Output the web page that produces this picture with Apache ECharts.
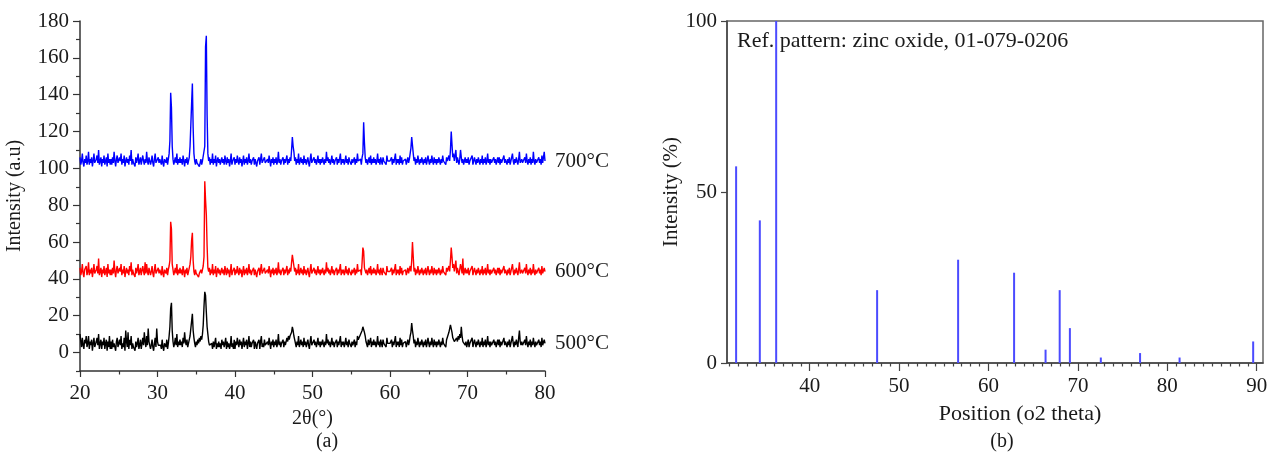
<!DOCTYPE html>
<html><head><meta charset="utf-8">
<script src="https://cdn.jsdelivr.net/npm/echarts@6/dist/echarts.min.js"></script>
<style>html,body{margin:0;padding:0;background:#fff}#c{width:1279px;height:458px}</style>
</head><body><div id="c"></div>
<script>
// sampling grid of the XRD patterns in (a): 20.0 .. 80.0 deg, step 0.1
const thetaStart = 20, thetaStep = 0.1;
const seriesNames = ['500°C', '600°C', '700°C'];
const y700 = [
106,102,104,108,103,101,105,103,107,102,
104,109,102,105,103,106,101,104,108,103,
102,105,107,103,110,102,104,106,101,105,
103,107,102,104,106,101,108,103,105,102,
105,102,106,103,109,104,101,105,107,103,
102,106,104,108,102,105,103,107,101,104,
106,103,105,102,107,104,110,102,105,103,
104,101,106,103,105,108,102,104,106,102,
103,107,104,102,105,103,109,104,102,106,
105,102,104,107,103,101,105,108,103,104,
102,106,103,105,104,102,107,103,101,105,
104,103,106,102,105,108,115,141,133,112,
105,102,104,106,103,108,102,105,103,106,
103,105,102,107,104,101,105,103,106,102,
104,106,112,113,135,146,122,108,104,102,
105,103,102,104,101,103,105,102,104,103,
104,112,166,172,129,108,104,106,102,105,
103,108,102,105,103,107,101,104,106,103,
105,102,104,106,103,105,102,107,104,102,
106,103,105,101,104,108,102,104,103,106,
102,105,103,107,104,102,106,103,105,101,
104,107,102,105,103,106,102,104,108,103,
105,102,104,103,106,102,105,103,101,104,
103,106,102,105,108,103,104,102,106,103,
104,102,105,103,107,104,101,105,103,106,
102,105,103,106,102,104,109,103,105,102,
104,103,106,102,105,103,104,107,102,105,
103,106,104,110,117,112,109,104,106,102,
105,103,108,102,104,106,103,105,102,107,
103,105,102,104,106,103,101,105,108,103,
104,102,106,103,105,102,104,107,103,105,
102,105,103,106,104,102,105,103,109,104,
106,103,105,102,104,107,103,105,102,104,
103,106,102,105,103,104,108,102,105,103,
105,102,104,107,103,105,102,106,104,103,
102,105,103,104,106,102,105,103,108,104,
104,103,105,102,106,108,125,114,106,103,
105,102,104,106,103,107,102,105,103,106,
103,105,102,104,108,103,105,102,106,104,
102,106,104,103,105,102,107,104,103,105,
104,103,106,102,105,103,104,108,102,105,
103,105,102,107,103,106,102,104,105,103,
105,102,104,106,103,105,108,111,117,117,
108,104,106,102,105,103,107,104,102,105,
103,106,104,102,105,103,106,102,104,107,
104,102,105,103,107,104,102,106,103,105,
102,105,103,106,104,102,105,103,107,104,
105,103,102,106,104,103,107,104,110,120,
113,106,108,104,105,110,103,106,104,102,
105,110,106,103,105,102,104,106,103,105,
103,106,102,104,105,103,107,102,104,106,
104,102,105,103,106,104,102,105,103,107,
102,105,103,106,102,104,108,103,105,102,
105,103,104,102,106,103,105,102,104,106,
103,106,102,105,103,104,102,107,103,105,
104,102,105,103,106,102,104,103,108,104,
102,105,103,106,104,102,105,109,103,104,
105,103,104,102,106,103,108,104,102,105,
103,106,102,105,103,109,104,102,105,103,
104,102,106,103,105,102,107,103,104,109,
104];
const y600 = [
46,42,44,48,43,41,45,44,47,42,
44,49,42,45,43,46,41,44,48,43,
42,45,47,43,51,42,44,46,41,45,
43,47,42,44,46,41,48,43,45,42,
45,42,46,43,50,44,41,45,47,43,
42,46,44,48,42,45,43,47,41,44,
46,43,45,42,47,44,49,42,45,43,
44,41,46,43,45,48,42,44,46,42,
43,47,44,42,49,43,48,44,42,46,
45,42,44,47,43,41,45,48,43,44,
42,46,43,45,44,42,47,43,41,45,
44,43,46,42,45,47,50,71,67,48,
45,42,44,46,43,48,42,45,43,46,
43,45,42,47,44,41,45,43,46,42,
44,46,48,52,61,65,50,44,42,45,
43,42,44,41,43,42,45,43,44,47,
52,93,83,75,58,46,44,46,42,45,
43,48,42,45,43,47,41,44,46,43,
45,42,44,46,43,45,42,47,44,42,
46,43,45,41,44,48,42,44,43,46,
42,45,43,47,44,42,46,43,45,41,
44,47,42,45,43,46,42,44,48,43,
45,42,44,43,46,42,45,43,41,44,
43,46,42,45,48,43,44,42,46,43,
44,42,45,43,47,44,41,45,43,46,
42,45,43,46,42,44,49,43,45,42,
44,43,46,42,45,43,44,47,42,45,
43,46,44,49,53,52,47,44,46,42,
45,43,48,42,44,46,43,45,42,47,
43,45,42,44,46,43,41,45,48,43,
44,42,46,43,45,42,44,47,43,45,
42,45,43,46,44,42,45,43,49,44,
46,43,45,42,44,47,43,45,42,44,
43,46,42,45,43,44,48,42,45,43,
45,42,44,47,43,45,42,46,44,43,
42,45,43,44,46,42,45,43,48,44,
44,43,45,42,49,57,55,46,45,43,
45,42,44,46,43,47,42,45,43,46,
43,45,42,44,48,43,45,42,46,44,
42,46,44,43,45,42,47,44,43,45,
44,43,46,42,45,43,44,48,42,45,
43,45,42,47,43,46,42,44,45,43,
45,42,44,46,43,45,47,44,50,60,
52,44,46,42,45,43,47,44,42,45,
43,46,44,42,45,43,46,42,44,47,
44,42,45,43,47,44,42,46,43,45,
42,45,43,46,44,42,45,43,47,44,
45,43,42,46,44,43,47,44,50,57,
52,46,48,44,45,50,43,46,44,42,
45,48,46,43,51,42,44,46,43,45,
43,46,42,44,45,43,47,42,44,46,
44,42,45,43,46,44,42,45,43,47,
42,45,43,46,42,44,48,43,45,42,
45,43,44,42,46,43,45,42,44,46,
43,46,42,45,43,44,42,47,43,45,
44,42,45,43,46,42,44,43,48,44,
42,45,43,46,44,42,45,49,43,44,
45,43,44,42,46,43,48,44,42,45,
43,46,42,45,43,48,44,42,45,43,
44,42,46,43,45,42,47,43,44,46,
44];
const y500 = [
10,6,3,8,4,2,7,5,9,3,
5,9,2,6,4,7,1,5,8,3,
3,6,8,4,10,2,5,7,2,6,
4,8,2,5,7,1,6,3,9,2,
6,2,7,3,5,4,1,6,8,3,
2,7,4,9,2,5,3,8,1,12,
6,3,11,2,7,4,9,2,5,3,
4,1,6,3,5,8,2,4,7,2,
3,8,4,11,6,3,9,4,13,6,
5,2,4,7,3,1,5,8,3,13,
6,4,3,5,4,2,7,3,1,5,
4,3,7,2,5,9,14,24,27,12,
6,3,5,8,4,10,3,6,4,7,
4,6,3,8,5,11,6,4,7,3,
5,7,9,13,17,21,12,8,5,3,
6,4,7,5,8,6,9,7,10,15,
25,33,31,22,14,10,6,4,5,3,
5,2,6,3,4,8,2,5,3,6,
3,5,2,7,4,6,3,5,8,2,
6,3,5,2,4,9,3,5,2,7,
2,6,4,8,5,3,7,4,6,2,
5,8,3,6,4,7,2,5,9,3,
6,3,5,4,7,2,6,4,2,5,
4,7,2,6,9,3,5,3,7,4,
5,3,6,4,8,5,2,6,4,7,
3,6,4,7,3,5,10,4,6,3,
5,4,7,3,6,4,5,8,6,9,
7,9,8,11,14,12,9,7,5,3,
6,4,9,3,5,7,4,6,3,8,
4,6,3,5,7,4,2,6,9,4,
5,3,7,4,6,3,5,8,4,6,
3,6,4,7,5,3,6,4,10,5,
7,4,6,3,5,8,4,6,3,5,
4,7,3,6,4,5,9,3,6,4,
6,3,5,8,4,6,3,7,5,4,
3,6,4,5,7,3,6,4,9,7,
6,8,10,9,12,14,13,11,9,6,
5,3,7,4,6,8,3,6,4,7,
4,6,3,5,9,4,6,3,7,5,
3,7,5,4,6,3,8,5,4,6,
5,4,7,3,6,4,5,9,3,6,
4,6,3,8,4,7,3,5,6,4,
6,3,5,7,4,6,9,11,16,12,
9,5,7,3,6,4,8,5,3,6,
4,7,5,3,6,4,7,3,5,8,
5,3,6,4,8,5,3,7,4,6,
3,6,4,7,5,3,6,4,8,5,
6,4,3,7,8,6,11,13,15,14,
11,8,9,6,7,5,8,6,9,7,
10,8,14,9,6,5,7,4,6,3,
4,7,3,5,6,4,8,3,5,7,
5,3,6,4,7,5,3,6,4,8,
3,6,4,7,3,5,9,4,6,3,
6,4,5,3,7,4,6,3,5,7,
4,7,3,6,4,5,3,8,4,6,
5,3,6,4,7,3,5,4,9,5,
3,6,4,7,5,3,8,12,6,4,
6,4,5,3,7,4,9,5,3,6,
4,7,3,6,4,8,5,3,6,4,
5,3,7,4,6,3,8,4,5,7,
5];
// reference pattern (b)
const refPos = [31.77, 34.42, 36.25, 47.54, 56.60, 62.86, 66.38, 67.96, 69.10, 72.56, 76.95, 81.37, 89.60];
const refInt = [57.5, 41.7, 100, 21.3, 30.2, 26.4, 3.9, 21.3, 10.2, 1.6, 2.9, 1.6, 6.3];
// ticks
const xTicksA = [20, 30, 40, 50, 60, 70, 80];
const xMinorA = [25, 35, 45, 55, 65, 75];
const yTicksA = [0, 20, 40, 60, 80, 100, 120, 140, 160, 180];
const yMinorA = [-10, 10, 30, 50, 70, 90, 110, 130, 150, 170];
const xTicksB = [40, 50, 60, 70, 80, 90];
const yTicksB = [0, 50, 100];
const xMinorB = [];
for (let t = 31; t <= 90; t++) if (t % 10) xMinorB.push(t);

const FONT = 'Liberation Serif';
const TXT = '#1a1a1a';
const AX = '#333';
const pts = arr => arr.map((v, i) => [+(thetaStart + i * thetaStep).toFixed(2), v]);

const chart = echarts.init(document.getElementById('c'));
const lbl = { fontFamily: FONT, fontSize: 21, color: TXT };
const lineSeries = (name, data, color) => ({
  type: 'line', name, data: pts(data), xAxisIndex: 0, yAxisIndex: 0,
  showSymbol: false, symbol: 'none', sampling: null, animation: false,
  lineStyle: { color, width: 1.4 }, itemStyle: { color },
  endLabel: { show: true, formatter: name, distance: 10, ...lbl }
});
chart.setOption({
  animation: false,
  backgroundColor: '#fff',
  textStyle: { fontFamily: FONT },
  grid: [
    { left: 80, top: 21, width: 465, height: 350, outerBoundsMode: 'none' },
    { left: 727, top: 21, width: 536, height: 342, show: true, borderColor: '#666', borderWidth: 1.5, outerBoundsMode: 'none' }
  ],
  xAxis: [
    { gridIndex: 0, type: 'value', position: 'bottom', min: 20, max: 80,
      axisLine: { onZero: false, lineStyle: { color: AX, width: 1.5 } },
      axisTick: { customValues: xTicksA, length: 6, lineStyle: { color: AX, width: 1.2 } },
      axisLabel: { customValues: xTicksA, margin: 12, ...lbl },
      splitLine: { show: false },
      name: '2θ(°)', nameLocation: 'middle', nameGap: 37, nameTextStyle: { ...lbl, fontSize: 20 } },
    { gridIndex: 0, type: 'value', position: 'bottom', min: 20, max: 80,
      axisLine: { show: false, onZero: false },
      axisTick: { customValues: xMinorA, length: 3.5, lineStyle: { color: AX, width: 1.2 } },
      axisLabel: { show: false }, splitLine: { show: false } },
    { gridIndex: 1, type: 'value', position: 'bottom', min: 30.75, max: 90.7,
      axisLine: { onZero: false, lineStyle: { color: '#444', width: 1.5 } },
      axisTick: { customValues: xTicksB, length: 8, lineStyle: { color: '#444', width: 1.2 } },
      axisLabel: { customValues: xTicksB, margin: 13, ...lbl },
      splitLine: { show: false },
      name: 'Position (o2 theta)', nameLocation: 'middle', nameGap: 40,
      nameTextStyle: { ...lbl, fontSize: 22, padding: [0, 0, 0, 50] } },
    { gridIndex: 1, type: 'value', position: 'bottom', min: 30.75, max: 90.7,
      axisLine: { show: false, onZero: false },
      axisTick: { customValues: xMinorB, length: 3.5, lineStyle: { color: '#444', width: 1.2 } },
      axisLabel: { show: false }, splitLine: { show: false } }
  ],
  yAxis: [
    { gridIndex: 0, type: 'value', position: 'left', min: -10, max: 180,
      axisLine: { show: true, onZero: false, lineStyle: { color: AX, width: 1.5 } },
      axisTick: { show: true, customValues: yTicksA, length: 7, lineStyle: { color: AX, width: 1.2 } },
      axisLabel: { customValues: yTicksA, margin: 11, ...lbl },
      splitLine: { show: false },
      name: 'Intensity (a.u)', nameLocation: 'middle', nameRotate: 90, nameGap: 55, nameTextStyle: { ...lbl, fontSize: 20 } },
    { gridIndex: 0, type: 'value', position: 'left', min: -10, max: 180,
      axisLine: { show: false, onZero: false },
      axisTick: { show: true, customValues: yMinorA, length: 4, lineStyle: { color: AX, width: 1.2 } },
      axisLabel: { show: false }, splitLine: { show: false } },
    { gridIndex: 1, type: 'value', position: 'left', min: 0, max: 100, interval: 50,
      axisLine: { show: true, onZero: false, lineStyle: { color: '#444', width: 1.5 } },
      axisTick: { show: true, length: 6, lineStyle: { color: '#444', width: 1.2 } },
      axisLabel: { margin: 10, ...lbl },
      splitLine: { show: false },
      name: 'Intensity (%)', nameLocation: 'middle', nameRotate: 90, nameGap: 42, nameTextStyle: lbl }
  ],
  series: [
    lineSeries(seriesNames[0], y500, '#000000'),
    lineSeries(seriesNames[1], y600, '#ff0000'),
    lineSeries(seriesNames[2], y700, '#0000ff'),
    { type: 'bar', name: 'ref', xAxisIndex: 2, yAxisIndex: 2, barWidth: 2,
      data: refPos.map((p, i) => [p, refInt[i]]),
      itemStyle: { color: '#4b4bff' }, animation: false }
  ],
  graphic: [
    { type: 'text', left: 737, top: 30, style: { text: 'Ref. pattern: zinc oxide, 01-079-0206', font: '22px "Liberation Serif"', fill: TXT } },
    { type: 'text', x: 327, y: 442, style: { text: '(a)', font: '20px "Liberation Serif"', fill: TXT, align: 'center', verticalAlign: 'middle' } },
    { type: 'text', x: 1002, y: 442, style: { text: '(b)', font: '20px "Liberation Serif"', fill: TXT, align: 'center', verticalAlign: 'middle' } }
  ]
});
</script></body></html>
